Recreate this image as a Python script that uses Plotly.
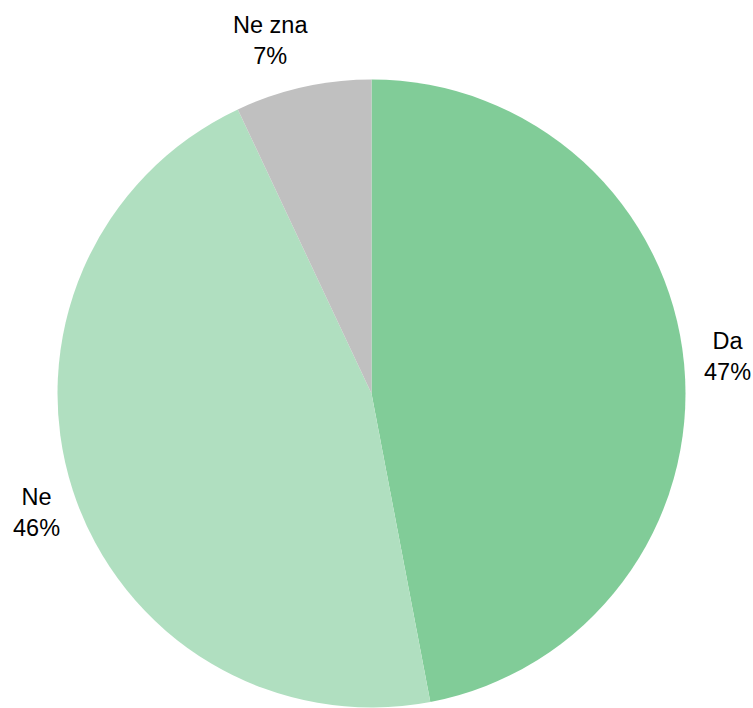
import plotly.graph_objects as go

labels = ["Da", "Ne", "Ne zna"]
values = [47, 46, 7]
colors = ["#81CC98", "#B0DFC0", "#C0C0C0"]

W, H = 753, 708
cx, cy, r = 371.5, 393.5, 314

# label placement (pixel centres, layout only)
label_pos = [(727, 356), (36, 512), (270, 40)]

fig = go.Figure(go.Pie(
    labels=labels,
    values=values,
    sort=False,
    direction="clockwise",
    rotation=0,
    marker=dict(colors=colors, line=dict(width=0)),
    textinfo="none",
    showlegend=False,
    hoverinfo="label+percent",
    domain=dict(x=[(cx - r) / W, (cx + r) / W], y=[(H - cy - r) / H, (H - cy + r) / H]),
))

total = sum(values)
for lab, val, (px, py) in zip(labels, values, label_pos):
    fig.add_annotation(
        x=px / W, y=1 - py / H, xref="paper", yref="paper",
        text=f"{lab}<br>{round(100 * val / total)}%",
        showarrow=False, xanchor="center", yanchor="middle", align="center",
        font=dict(family="Liberation Sans, Arial, sans-serif", size=23.5, color="#000000"),
    )

fig.update_layout(
    width=W, height=H,
    margin=dict(l=0, r=0, t=0, b=0),
    paper_bgcolor="white",
    plot_bgcolor="white",
)
fig.write_html(
    "out.html",
    config={"displayModeBar": False},
    post_script="document.body.style.margin='0';document.body.style.overflow='hidden';",
)
